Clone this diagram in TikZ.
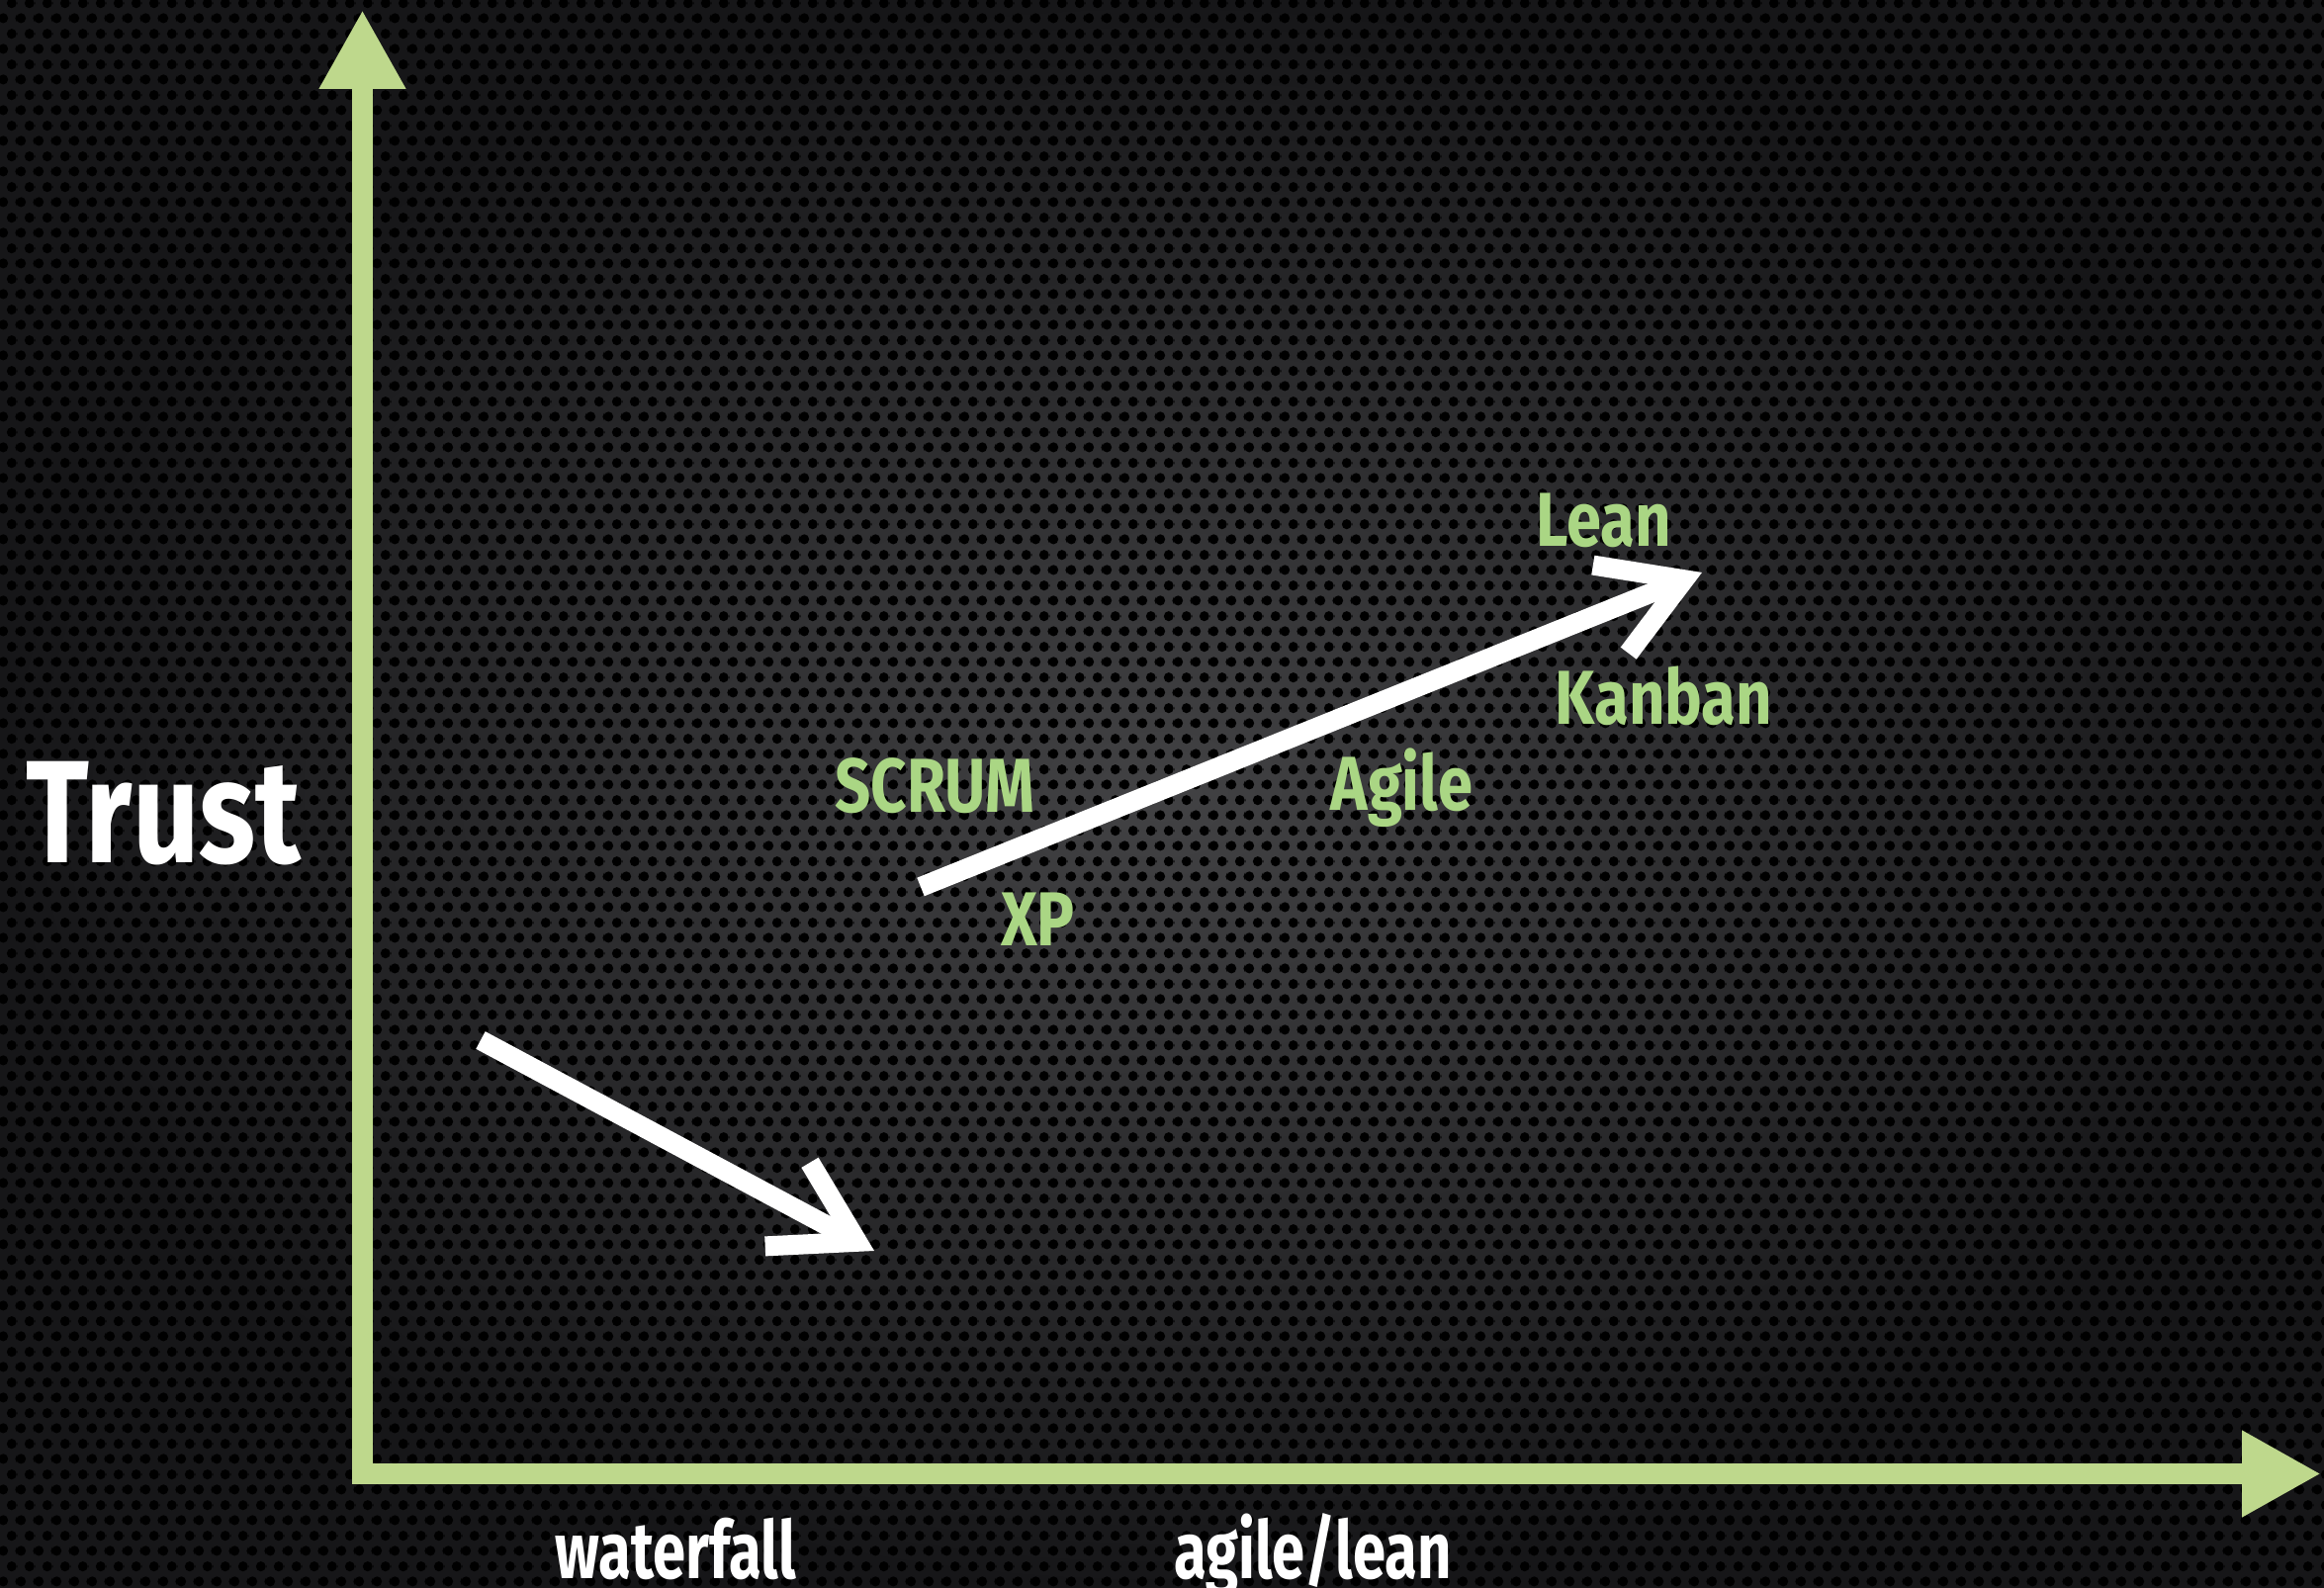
\documentclass[tikz,border=0pt]{standalone}
\usepackage{fontspec}
\usepackage{xcolor}
\usetikzlibrary{arrows.meta,patterns}
\newfontfamily\methodfont[FakeStretch=0.82]{Fira Sans}
\newfontfamily\trustfont[FakeStretch=0.80]{Fira Sans}
\newfontfamily\axisfont[FakeStretch=0.74]{Fira Sans}
\definecolor{axisgreen}{RGB}{190,216,140}
\definecolor{methodgreen}{RGB}{170,214,132}
\definecolor{meshgray}{RGB}{66,66,68}
\definecolor{meshdark}{RGB}{22,22,24}
% perforated metal: hex grid of holes
\pgfdeclarepatternformonly{perforated}{\pgfpointorigin}{\pgfpoint{1.8mm}{3.12mm}}{\pgfpoint{1.8mm}{3.12mm}}{
  \pgfpathcircle{\pgfpoint{0.45mm}{0.78mm}}{0.52mm}
  \pgfpathcircle{\pgfpoint{2.25mm}{0.78mm}}{0.52mm}
  \pgfpathcircle{\pgfpoint{1.35mm}{2.34mm}}{0.52mm}
  \pgfpathcircle{\pgfpoint{-0.45mm}{2.34mm}}{0.52mm}
  \pgfusepath{fill}
}

\begin{document}
\begin{tikzpicture}[
  axis/.style={draw=axisgreen, line width=2.1mm, line cap=rect,
               -{Triangle[length=8mm, width=8.2mm]}},
  arr/.style={draw=white, line width=2mm, -{Straight Barb[length=8mm, width=9.6mm]}},
  method/.style={text=methodgreen, anchor=base, inner sep=0pt,
                 font=\methodfont\bfseries\fontsize{22}{26}\selectfont},
  axislabel/.style={text=white, anchor=base, inner sep=0pt,
                    font=\axisfont\bfseries\fontsize{23}{27}\selectfont},
]
  \useasboundingbox (0,0) rectangle (23.5,16.06);

  % Background: dark perforated panel
  \fill[inner color=meshgray, outer color=meshdark] (0,0) rectangle (23.5,16.06);
  \fill[pattern=perforated, pattern color=black] (0,0) rectangle (23.5,16.06);

  % Axes
  \coordinate (origin) at (3.665,1.155);
  \coordinate (ytip)   at (3.665,15.96);
  \coordinate (xtip)   at (23.47,1.155);
  \draw[axis] (origin) -- (ytip);
  \draw[axis] (origin) -- (xtip);

  % Axis labels
  \node[text=white, anchor=base, inner sep=0pt,
        font=\trustfont\bfseries\fontsize{42}{48}\selectfont] (trust) at (1.655,7.33) {Trust};
  \node[axislabel] (waterfall) at (6.835,0.09) {waterfall};
  \node[axislabel] (agilelean) at (13.275,0.09) {agile/lean};

  % Methods along the rising arrow
  \node[method] (scrum)  at (9.455,7.84)  {SCRUM};
  \node[method] (xp)     at (10.495,6.49) {XP};
  \node[method] (agile)  at (14.175,7.86) {Agile};
  \node[method] (lean)   at (16.215,10.53) {Lean};
  \node[method] (kanban) at (16.825,8.73) {Kanban};

  % Trend arrows
  \coordinate (wstart) at (4.86,5.54);
  \coordinate (wend)   at (8.84,3.41);
  \coordinate (astart) at (9.31,7.09);
  \coordinate (aend)   at (17.21,10.27);
  \draw[arr] (wstart) -- (wend);
  \draw[arr] (astart) -- (aend);
\end{tikzpicture}
\end{document}
